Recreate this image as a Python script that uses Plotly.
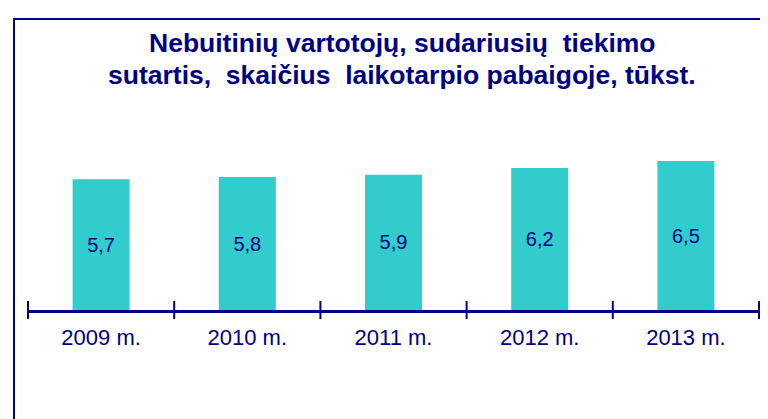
import plotly.graph_objects as go

years = ["2009 m.", "2010 m.", "2011 m.", "2012 m.", "2013 m."]
values = [5.7, 5.8, 5.9, 6.2, 6.5]
value_labels = ["5,7", "5,8", "5,9", "6,2", "6,5"]
title_lines = ["Nebuitinių vartotojų, sudariusių  tiekimo",
               "sutartis,  skaičius  laikotarpio pabaigoje, tūkst."]

NAVY = "#000080"
TEAL = "#33CCCC"
W, H = 768, 419
OFF = 8  # page body margin
L, R, T, B = 28 - OFF, 768 - (759 - OFF), 40, 419 - (310 - OFF)
pw, ph = W - L - R, H - T - B


def px_x(sx):
    return (sx - OFF - L) / pw


def px_y(sy):
    return (H - B - (sy - OFF)) / ph


idx = list(range(len(years)))
bounds = [i - 0.5 for i in range(len(years) + 1)]

fig = go.Figure()
fig.add_trace(go.Bar(
    x=idx, y=values, width=0.39,
    marker=dict(color=TEAL, line=dict(width=0)),
    text=value_labels, textposition="inside", insidetextanchor="middle",
    textfont=dict(family="Liberation Sans, Arial", size=20, color=NAVY),
    textangle=0, hoverinfo="skip",
))
fig.add_trace(go.Scatter(
    x=bounds, y=[0] * len(bounds), mode="markers",
    marker=dict(symbol="line-ns", size=13, line=dict(width=2, color=NAVY)),
    cliponaxis=False, hoverinfo="skip",
))

fig.add_shape(type="rect", xref="paper", yref="paper",
              x0=px_x(14), x1=1.3, y0=-1.0, y1=px_y(19),
              line=dict(color=NAVY, width=2), fillcolor="rgba(0,0,0,0)", layer="below")

for line, cy in zip(title_lines, [43, 75]):
    fig.add_annotation(text=line, xref="paper", yref="paper", x=px_x(402), y=px_y(cy),
                       xanchor="center", yanchor="middle", showarrow=False,
                       font=dict(family="Liberation Sans, Arial", size=26.5, color=NAVY,
                                 weight="bold"))

fig.update_layout(
    width=W, height=H,
    margin=dict(l=L, r=R, t=T, b=B),
    paper_bgcolor="white", plot_bgcolor="white",
    showlegend=False,
    xaxis=dict(range=[-0.5, 4.5], tickmode="array", tickvals=idx, ticktext=years,
               showline=True, linecolor=NAVY, linewidth=3, ticks="", showgrid=False,
               zeroline=False, ticklabelstandoff=6,
               tickfont=dict(family="Liberation Sans, Arial", size=22, color=NAVY)),
    yaxis=dict(range=[0, 6.5 * ph / 149], visible=False, showgrid=False, zeroline=False),
)

fig.write_html("out.html")
